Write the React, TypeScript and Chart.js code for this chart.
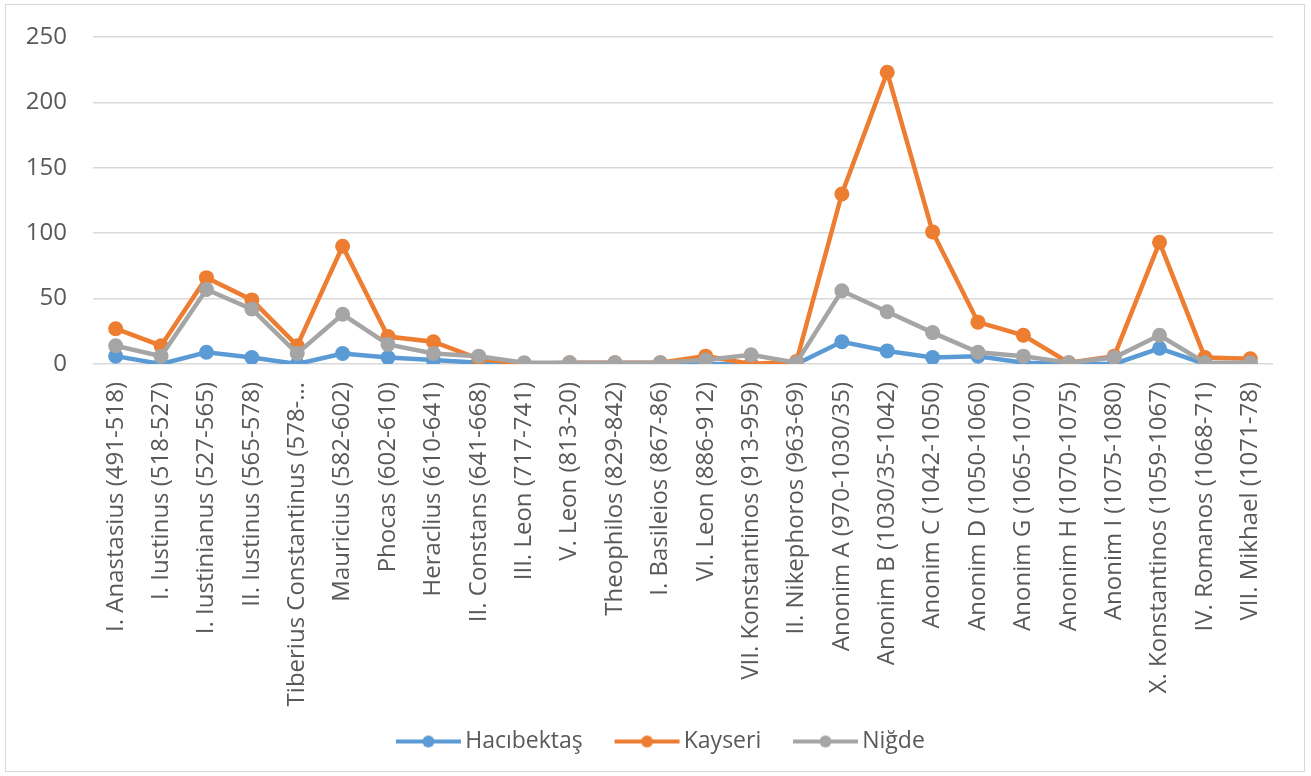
import React, { useEffect, useRef } from "react";
import { Chart, registerables } from "chart.js";

Chart.register(...registerables);

const categories: string[] = [
  "I. Anastasius (491-518)",
  "I. Iustinus (518-527)",
  "I. Iustinianus (527-565)",
  "II. Iustinus (565-578)",
  "Tiberius Constantinus (578-…",
  "Mauricius (582-602)",
  "Phocas (602-610)",
  "Heraclius (610-641)",
  "II. Constans (641-668)",
  "III. Leon (717-741)",
  "V. Leon (813-20)",
  "Theophilos (829-842)",
  "I. Basileios (867-86)",
  "VI. Leon (886-912)",
  "VII. Konstantinos (913-959)",
  "II. Nikephoros (963-69)",
  "Anonim A (970-1030/35)",
  "Anonim B (1030/35-1042)",
  "Anonim C (1042-1050)",
  "Anonim D (1050-1060)",
  "Anonim G (1065-1070)",
  "Anonim H (1070-1075)",
  "Anonim I (1075-1080)",
  "X. Konstantinos (1059-1067)",
  "IV. Romanos (1068-71)",
  "VII. Mikhael (1071-78)",
];

const hacibektas: number[] = [6, 0, 9, 5, 0, 8, 5, 3, 1, 0, 0, 0, 0, 0, 0, 0, 17, 10, 5, 6, 1, 0, 0, 12, 0, 0];
const kayseri: number[] = [27, 14, 66, 49, 14, 90, 21, 17, 4, 0, 1, 1, 1, 6, 0, 2, 130, 223, 101, 32, 22, 1, 6, 93, 5, 4];
const nigde: number[] = [14, 6, 57, 42, 8, 38, 15, 8, 6, 1, 1, 1, 1, 3, 7, 1, 56, 40, 24, 9, 6, 1, 5, 22, 1, 1];

const seriesNames: string[] = ["Hacıbektaş", "Kayseri", "Niğde"];
const seriesColors: string[] = ["#5B9BD5", "#ED7D31", "#A5A5A5"];

const yMin = 0;
const yMax = 250;
const yStep = 50;

const FONT = '"Open Sans", "Noto Sans", sans-serif';
const TEXT = "#595959";

function makeMarker(color: string): HTMLCanvasElement {
  const c = document.createElement("canvas");
  c.width = 120;
  c.height = 16;
  const ctx = c.getContext("2d")!;
  ctx.strokeStyle = color;
  ctx.lineWidth = 4;
  ctx.beginPath();
  ctx.moveTo(45, 8);
  ctx.lineTo(110, 8);
  ctx.stroke();
  ctx.fillStyle = color;
  ctx.beginPath();
  ctx.arc(77.5, 8, 6, 0, Math.PI * 2);
  ctx.fill();
  return c;
}

export default function App() {
  const ref = useRef<HTMLCanvasElement | null>(null);

  useEffect(() => {
    if (!ref.current) return;
    const markers = seriesColors.map(makeMarker);
    const values = [hacibektas, kayseri, nigde];
    const chart = new Chart(ref.current, {
      type: "line",
      data: {
        labels: categories,
        datasets: values.map((v, i) => ({
          label: seriesNames[i],
          data: v,
          borderColor: seriesColors[i],
          backgroundColor: seriesColors[i],
          pointBackgroundColor: seriesColors[i],
          pointBorderColor: seriesColors[i],
          borderWidth: 4.5,
          pointRadius: 7.5,
          pointBorderWidth: 0,
          tension: 0,
          order: 3 - i,
        })),
      },
      options: {
        animation: false,
        responsive: false,
        devicePixelRatio: 1,
        layout: { padding: { top: 32, right: 31, bottom: 8, left: 14 } },
        scales: {
          x: {
            type: "category",
            offset: true,
            grid: { display: false },
            border: { display: false },
            ticks: {
              color: TEXT,
              font: { family: FONT, size: 24 },
              minRotation: 90,
              maxRotation: 90,
              autoSkip: false,
              padding: 10,
            },
            afterFit: (s: any) => {
              s.height = 362;
            },
          },
          y: {
            min: yMin,
            max: yMax,
            border: { display: false },
            grid: {
              color: "#d9d9d9",
              lineWidth: 1.5,
              drawTicks: true,
              tickLength: 26,
              tickColor: "rgba(0,0,0,0)",
            },
            ticks: {
              stepSize: yStep,
              color: TEXT,
              font: { family: FONT, size: 24 },
              padding: 0,
            },
            afterFit: (s: any) => {
              s.width = 73;
            },
          },
        },
        plugins: {
          tooltip: { enabled: false },
          legend: {
            position: "bottom",
            labels: {
              usePointStyle: true,
              pointStyleWidth: 85.5,
              color: TEXT,
              font: { family: FONT, size: 23 },
              padding: 4,
              sort: (a: any, b: any) => a.datasetIndex - b.datasetIndex,
              generateLabels: (c: any) => {
                const items = (Chart.defaults.plugins.legend.labels as any).generateLabels(c);
                return items.map((it: any) => ({ ...it, pointStyle: markers[it.datasetIndex] }));
              },
            },
          },
        },
      },
    } as any);
    return () => chart.destroy();
  }, []);

  return (
    <div
      style={{
        position: "fixed",
        left: 5,
        top: 4,
        width: 1298,
        height: 766,
        border: "1px solid #d9d9d9",
        background: "#fff",
      }}
    >
      <canvas ref={ref} width={1298} height={766} style={{ display: "block" }} />
    </div>
  );
}
